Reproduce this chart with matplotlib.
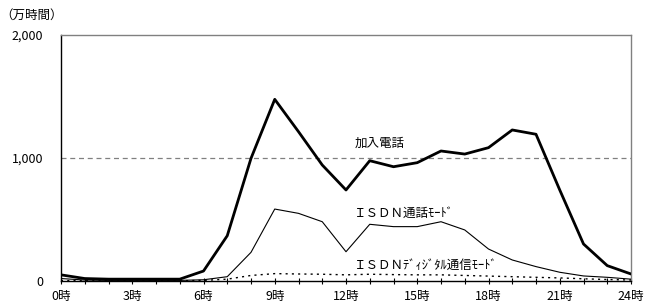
import matplotlib
matplotlib.use("Agg")
import matplotlib.pyplot as plt

plt.rcParams['font.family'] = ['Noto Sans CJK JP', 'DejaVu Sans']

hours = list(range(25))
kanyu = [50, 20, 15, 15, 15, 15, 81, 368, 997, 1477, 1214, 943, 740, 978, 929, 962,
         1057, 1032, 1084, 1228, 1193, 740, 301, 125, 57]
isdn_call = [20, 8, 5, 5, 5, 5, 10, 35, 233, 585, 550, 482, 238, 461, 442, 442,
             482, 415, 260, 171, 117, 71, 41, 30, 15]
isdn_digital = [3, 2, 2, 2, 2, 2, 5, 15, 45, 60, 57, 55, 50, 55, 52, 50,
                50, 45, 40, 35, 30, 25, 18, 12, 8]
xtick_pos = [0, 3, 6, 9, 12, 15, 18, 21, 24]
xtick_labels = ["0時", "3時", "6時", "9時", "12時", "15時", "18時", "21時", "24時"]
ytick_pos = [0, 1000, 2000]
ytick_labels = ["0", "1,000", "2,000"]

fig = plt.figure(figsize=(6.45, 3.02), dpi=100)
ax = fig.add_axes([61/645, 21/302, 570/645, 246/302])

ax.axhline(1000, color='#808080', linestyle=(0, (4, 3)), linewidth=0.9, zorder=1)

ax.plot(hours, kanyu, color='black', linewidth=2.0, zorder=3)
ax.plot(hours, isdn_call, color='black', linewidth=0.8, zorder=3)
ax.plot(hours, isdn_digital, color='black', linewidth=1.0, linestyle=(0, (1.5, 3)), zorder=3)

ax.set_xlim(0, 24)
ax.set_ylim(0, 2000)
ax.set_xticks(xtick_pos)
ax.set_xticklabels(xtick_labels, fontsize=9)
ax.set_xticks(hours, minor=True)
ax.tick_params(axis='x', which='both', direction='inout', length=5, width=0.8, pad=4)
ax.set_yticks(ytick_pos)
ax.set_yticklabels(ytick_labels, fontsize=9)
ax.tick_params(axis='y', length=0, pad=13)

for s in ['left', 'bottom']:
    ax.spines[s].set_color('black')
    ax.spines[s].set_linewidth(1.0)
for s in ['top', 'right']:
    ax.spines[s].set_color('#808080')
    ax.spines[s].set_linewidth(1.0)

lab_fs = 9
ax.text(12.35, 1122, "加入電話", fontsize=lab_fs, va='center', ha='left')
ax.text(12.35, 553, "ＩＳＤＮ通話ﾓｰﾄﾞ", fontsize=lab_fs, va='center', ha='left')
ax.text(12.35, 130, "ＩＳＤＮﾃﾞｨｼﾞﾀﾙ通信ﾓｰﾄﾞ", fontsize=lab_fs, va='center', ha='left')

fig.text(0.0, 1 - 15/302, "（万時間）", fontsize=9, va='center', ha='left')

fig.savefig("out.png", dpi=100)
